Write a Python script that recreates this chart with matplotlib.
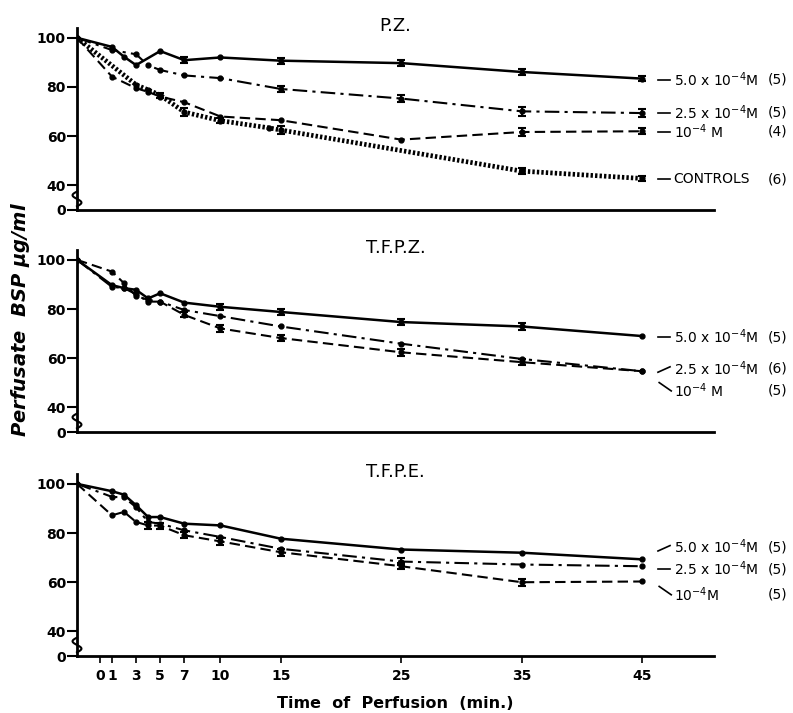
"""Perfusate BSP vs time of perfusion, three drug panels (P.Z., T.F.P.Z., T.F.P.E.)."""
import numpy as np
import matplotlib
matplotlib.use("Agg")
import matplotlib.pyplot as plt

plt.rcParams["font.family"] = ["DejaVu Sans"]
plt.rcParams["mathtext.default"] = "regular"

# ---- data (minutes; -1.9 is the pre-perfusion reference point) ----
t_full = [-1.9, 1, 2, 3, 4, 5, 7, 10, 15, 25, 35, 45]

# P.Z.
pz_hi_t = [-1.9, 1, 2, 3, 5, 7, 10, 15, 25, 35, 45]
pz_hi = [100, 96.3, 92.3, 88.9, 94.6, 90.9, 92.0, 90.7, 89.7, 86.1, 83.4]
pz_hi_err = [0, 0, 0, 0, 0, 1.2, 0, 1.2, 1.1, 1.2, 1.1]
pz_mid_t = [-1.9, 1, 3, 4, 5, 7, 10, 15, 25, 35, 45]
pz_mid = [100, 95.0, 93.3, 88.8, 86.9, 84.7, 83.6, 79.2, 75.3, 70.1, 69.4]
pz_mid_err = [0, 0, 0, 0, 0, 0, 0, 1.3, 1.5, 1.7, 1.5]
pz_lo_t = [-1.9, 1, 3, 4, 5, 7, 10, 15, 25, 35, 45]
pz_lo = [100, 84.2, 79.5, 78.0, 76.1, 73.8, 68.0, 66.5, 58.6, 61.7, 62.0]
pz_lo_err = [0, 0, 0, 0, 0, 0, 0, 0, 0, 1.8, 1.3]
pz_ctl_t = [-1.9, 3, 4, 5, 7, 10, 14, 15, 35, 45]
pz_ctl = [100, 80.9, 78.8, 76.7, 69.8, 66.3, 63.4, 62.5, 45.8, 42.8]
pz_ctl_err = [0, 0, 0, 1.0, 1.5, 1.0, 0, 1.6, 1.3, 1.0]

# T.F.P.Z.
tfpz_hi = [100, 89.7, 88.5, 87.8, 84.3, 86.4, 82.6, 80.9, 78.8, 74.7, 72.9, 69.0]
tfpz_hi_err = [0, 0, 0, 0, 0, 0, 0, 1.3, 1.3, 1.3, 1.3, 0]
tfpz_mid = [100, 89.0, 88.5, 86.0, 83.0, 83.0, 79.6, 77.1, 72.9, 65.9, 59.7, 54.7]
tfpz_mid_err = [0] * 12
tfpz_lo = [100, 95.2, 90.5, 85.3, 83.7, 83.0, 77.6, 72.1, 68.2, 62.4, 58.4, 54.7]
tfpz_lo_err = [0, 0, 0, 0, 0, 0, 1.0, 1.3, 1.3, 1.3, 1.2, 0]

# T.F.P.E.
tfpe_hi = [100, 97.0, 95.6, 91.3, 86.5, 86.5, 83.8, 83.1, 77.7, 73.3, 72.0, 69.3]
tfpe_hi_err = [0] * 12
tfpe_mid = [100, 94.7, 94.5, 90.5, 84.5, 83.8, 81.1, 78.4, 73.6, 68.4, 67.2, 66.5]
tfpe_mid_err = [0, 0, 0, 0, 0, 0, 0, 0, 0, 1.5, 0, 0]
tfpe_lo = [100, 87.2, 88.6, 84.5, 83.1, 83.0, 79.1, 76.6, 72.2, 66.5, 60.0, 60.3]
tfpe_lo_err = [0, 0, 0, 0, 1.3, 1.2, 1.3, 1.3, 1.5, 1.3, 1.5, 0]

x_ticks = [0, 1, 3, 5, 7, 10, 15, 25, 35, 45]

STYLES = {
    "hi": dict(ls="-", lw=1.8),
    "mid": dict(ls=(0, (7, 2.5, 1.5, 2.5)), lw=1.5),
    "lo": dict(ls=(0, (5, 2.5)), lw=1.5),
    "ctl": dict(ls=(0, (0.5, 0.45)), lw=3.4),
}

panels = [
    dict(title="P.Z.", series=[
        ("hi", pz_hi_t, pz_hi, pz_hi_err),
        ("mid", pz_mid_t, pz_mid, pz_mid_err),
        ("lo", pz_lo_t, pz_lo, pz_lo_err),
        ("ctl", pz_ctl_t, pz_ctl, pz_ctl_err)],
        labels=[("-", 83.0, r"5.0 x 10$^{-4}$M", "(5)"),
                ("-", 69.6, r"2.5 x 10$^{-4}$M", "(5)"),
                ("-", 61.9, r"10$^{-4}$ M", "(4)"),
                ("-", 42.4, "CONTROLS", "(6)")]),
    dict(title="T.F.P.Z.", series=[
        ("hi", t_full, tfpz_hi, tfpz_hi_err),
        ("mid", t_full, tfpz_mid, tfpz_mid_err),
        ("lo", t_full, tfpz_lo, tfpz_lo_err)],
        labels=[("-", 68.6, r"5.0 x 10$^{-4}$M", "(5)"),
                ("/", 55.9, r"2.5 x 10$^{-4}$M", "(6)"),
                ("\\", 46.9, r"10$^{-4}$ M", "(5)")]),
    dict(title="T.F.P.E.", series=[
        ("hi", t_full, tfpe_hi, tfpe_hi_err),
        ("mid", t_full, tfpe_mid, tfpe_mid_err),
        ("lo", t_full, tfpe_lo, tfpe_lo_err)],
        labels=[("/", 74.3, r"5.0 x 10$^{-4}$M", "(5)"),
                ("-", 65.3, r"2.5 x 10$^{-4}$M", "(5)"),
                ("\\", 55.1, r"10$^{-4}$M", "(5)")]),
]

fig = plt.figure(figsize=(7.93, 7.13), dpi=100)
bottoms = [0.7055, 0.3941, 0.0799]
YLO, YHI = 30, 104

for k, (p, b) in enumerate(zip(panels, bottoms)):
    ax = fig.add_axes([0.0971, b, 0.8033, 0.2553])
    for key, t, v, e in p["series"]:
        t = np.asarray(t, float); v = np.asarray(v, float); e = np.asarray(e, float)
        ax.plot(t, v, color="black", marker="o", ms=3.5, **STYLES[key])
        m = e > 0
        if m.any():
            ax.errorbar(t[m], v[m], yerr=e[m], fmt="none", ecolor="black",
                        elinewidth=1.5, capsize=3, capthick=1.5)
    ax.set_xlim(-1.9, 50.95)
    ax.set_ylim(YLO, YHI)
    ax.set_yticks([30, 40, 60, 80, 100])
    ax.set_yticklabels(["0", "40", "60", "80", "100"], fontsize=10, fontweight="bold")
    for s in ("top", "right"):
        ax.spines[s].set_visible(False)
    for s in ("left", "bottom"):
        ax.spines[s].set_linewidth(2)
    ax.tick_params(axis="y", direction="out", length=7, width=1.5, pad=1)
    if k == 2:
        ax.set_xticks(x_ticks)
        ax.set_xticklabels([str(x) for x in x_ticks], fontsize=10, fontweight="bold")
        ax.tick_params(axis="x", direction="out", length=5, width=1.2, pad=4)
        ax.set_xlabel("Time  of  Perfusion  (min.)", fontsize=11.5, fontweight="bold",
                      labelpad=10)
    else:
        ax.set_xticks([])

    # axis break squiggle between 0 and 40
    s = np.linspace(0, 1, 30)
    ax.plot(0.007 * np.sin(2 * np.pi * s), 31.5 + 6 * s, color="black", lw=1.5,
            transform=ax.get_yaxis_transform(), clip_on=False)

    ax.text(0.5, 1.01, p["title"], transform=ax.transAxes, ha="center", va="center",
            fontsize=13)

    # right-hand labels
    for conn, y, txt, n in p["labels"]:
        if conn == "-":
            xs, ys = [46.3, 47.3], [y, y]
        elif conn == "/":
            xs, ys = [46.3, 47.3], [y - 1.6, y + 0.6]
        else:
            xs, ys = [46.4, 47.4], [y + 3.2, y - 0.2]
        ax.plot(xs, ys, color="black", lw=1.2, clip_on=False)
        ax.text(47.6, y, txt, fontsize=10, va="center", ha="left", clip_on=False)
        ax.text(55.4, y, n, fontsize=10, va="center", ha="left", clip_on=False)

fig.text(0.026, 0.552, r"Perfusate  BSP $\mu$g/ml", rotation=90, ha="center",
         va="center", fontsize=14, fontweight="bold", fontstyle="italic")

fig.savefig("out.png", dpi=100)
